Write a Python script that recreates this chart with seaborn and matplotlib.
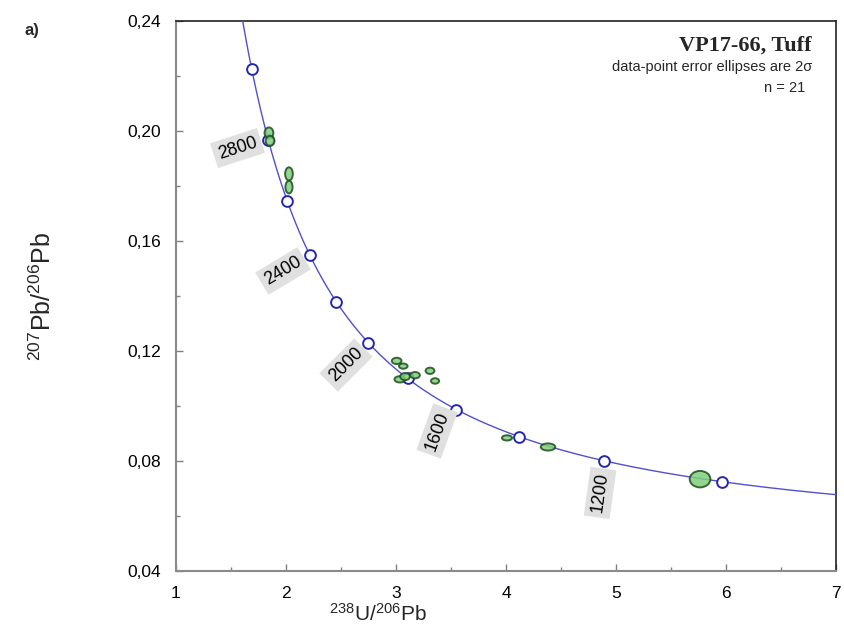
import numpy as np
import pandas as pd
import matplotlib
matplotlib.use("Agg")
import matplotlib.pyplot as plt
import seaborn as sns
from matplotlib.patches import Ellipse
from matplotlib.ticker import MultipleLocator, FuncFormatter

# ---------------- data ----------------
# decay constants (per Ma) and present-day 238U/235U
L238 = 1.55125e-4
L235 = 9.8485e-4
U238_U235 = 137.88

# concordia age markers (Ma)
marker_ages = [1000, 1200, 1400, 1600, 1800, 2000, 2200, 2400, 2600, 2800, 3000]
# labelled ages
label_ages = ["2800", "2400", "2000", "1600", "1200"]

# data-point ellipses: centre (238U/206Pb, 207Pb/206Pb) and 2-sigma full widths
ell_x = [1.845, 1.855, 2.027, 2.027, 3.006, 3.066, 3.036, 3.082, 3.173, 3.309, 3.355, 4.009, 4.382, 5.764]
ell_y = [0.1993, 0.1964, 0.1844, 0.1796, 0.1164, 0.1145, 0.1097, 0.1107, 0.1112, 0.1128, 0.1091, 0.0884, 0.0851, 0.0734]
ell_wx = [0.080, 0.080, 0.070, 0.065, 0.088, 0.078, 0.100, 0.088, 0.088, 0.080, 0.074, 0.092, 0.132, 0.188]
ell_wy = [0.0040, 0.0036, 0.0048, 0.0046, 0.0023, 0.0019, 0.0023, 0.0026, 0.0023, 0.0023, 0.0020, 0.0019, 0.0026, 0.0060]

# ---------------- layout (not data) ----------------
label_pos_x = [1.559, 1.973, 2.545, 3.373, 4.855]
label_pos_y = [0.1938, 0.1491, 0.1149, 0.0909, 0.0684]
label_rot = [18, 31, 45, 70, 82]


def concordia(t):
    t = np.asarray(t, dtype=float)
    e8 = np.exp(L238 * t) - 1.0
    e5 = np.exp(L235 * t) - 1.0
    return 1.0 / e8, e5 / e8 / U238_U235


sns.set_theme(style="white")
plt.rcParams["font.family"] = ["Liberation Sans", "DejaVu Sans"]
plt.rcParams["mathtext.fontset"] = "custom"
plt.rcParams["mathtext.rm"] = "Liberation Sans"
plt.rcParams["mathtext.default"] = "regular"

fig = plt.figure(figsize=(8.45, 6.28), dpi=100)
fig.patch.set_facecolor("white")
ax = fig.add_axes([176 / 845, 1 - 571 / 628, 660 / 845, 550 / 628])
ax.set_facecolor("white")

# curve
t_curve = np.linspace(800, 3300, 600)
cx, cy = concordia(t_curve)
curve_df = pd.DataFrame({"x": cx, "y": cy, "t": t_curve})
mx, my = concordia(marker_ages)
marker_df = pd.DataFrame({"x": mx, "y": my, "age": marker_ages})

sns.lineplot(data=curve_df, x="x", y="y", sort=False, estimator=None,
             color="#5050d0", lw=1.0, ax=ax, zorder=3)
sns.scatterplot(data=marker_df, x="x", y="y", s=60, facecolor="white",
                edgecolor="#2626b0", linewidth=1.4, ax=ax, zorder=4)

# ellipses (semi-transparent, drawn over curve and markers)
for x, y, w, h in zip(ell_x, ell_y, ell_wx, ell_wy):
    ax.add_patch(Ellipse((x, y), w, h, facecolor="#7fcf7b", edgecolor="#1f4d1f",
                         lw=1.4, alpha=0.85, zorder=5))

for txt, x, y, r in zip(label_ages, label_pos_x, label_pos_y, label_rot):
    ax.text(x, y, txt, rotation=r, ha="center", va="center", fontsize=13,
            color="black", rotation_mode="anchor",
            bbox=dict(boxstyle="square,pad=0.25", facecolor="#e0e0e0", edgecolor="none"),
            zorder=6)

ax.set_xlim(1, 7)
ax.set_ylim(0.04, 0.24)
ax.xaxis.set_major_locator(MultipleLocator(1))
ax.xaxis.set_minor_locator(MultipleLocator(0.5))
ax.yaxis.set_major_locator(MultipleLocator(0.04))
ax.yaxis.set_minor_locator(MultipleLocator(0.02))
ax.yaxis.set_major_formatter(FuncFormatter(lambda v, p: f"{v:.2f}".replace(".", ",")))
ax.xaxis.set_major_formatter(FuncFormatter(lambda v, p: f"{v:.0f}"))

ax.tick_params(axis="both", which="both", direction="in", colors="#808080",
               labelcolor="black", labelsize=12.5)
ax.tick_params(axis="both", which="major", length=5, width=1)
ax.tick_params(axis="both", which="minor", length=3, width=1)
ax.tick_params(axis="x", which="major", pad=11)
ax.tick_params(axis="y", which="major", pad=11)
ax.tick_params(top=False, right=False, bottom=True, left=True, which="both")

for side in ["left", "bottom"]:
    ax.spines[side].set_color("#8a8a8a")
    ax.spines[side].set_linewidth(1.5)
for side in ["top", "right"]:
    ax.spines[side].set_color("#222222")
    ax.spines[side].set_linewidth(1.2)

ax.set_xlabel(r"$^{238}$U/$^{206}$Pb", fontsize=15, va="center")
ax.xaxis.set_label_coords((378 - 176) / 660, -(614 - 571) / 550)
ax.set_ylabel(r"$^{207}$Pb/$^{206}$Pb", fontsize=18, va="center")
ax.yaxis.set_label_coords((43 - 176) / 660, 0.5)

ax.text(0.9636, 0.956, "VP17-66, Tuff", transform=ax.transAxes, ha="right", va="center",
        fontsize=16, fontweight="bold", family=["Liberation Serif", "DejaVu Serif"])
ax.text(0.9636, 0.916, "data-point error ellipses are 2σ", transform=ax.transAxes,
        ha="right", va="center", fontsize=10.5)
ax.text(0.953, 0.878, "n = 21", transform=ax.transAxes, ha="right", va="center",
        fontsize=10.5)

fig.text(32 / 845, 1 - 30 / 628, "a)", ha="center", va="center", fontsize=12,
         fontweight="bold")

fig.savefig("out.png", dpi=100, facecolor="white")
